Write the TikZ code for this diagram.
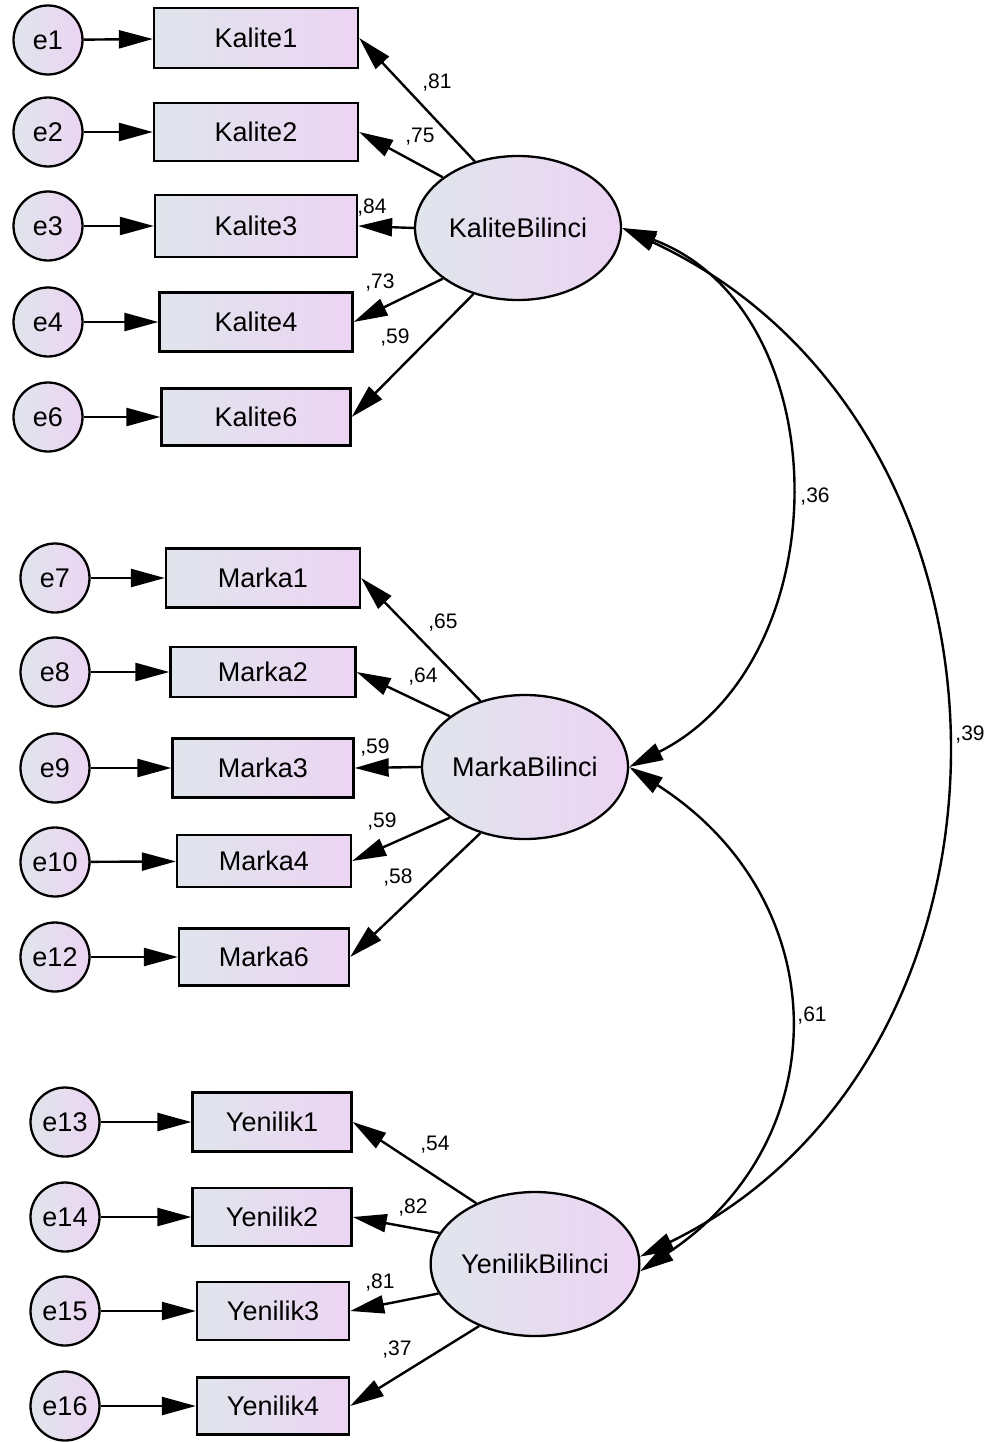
\documentclass[tikz,border=0pt]{standalone}
\usepackage{fontspec}
\setmainfont{Liberation Sans}
\usetikzlibrary{arrows.meta,shapes.geometric}
\definecolor{shA}{RGB}{224,229,236}
\definecolor{shB}{RGB}{236,212,243}
\begin{document}
\begin{tikzpicture}[x=1pt,y=-1pt,
  obs/.style={draw, line width=2.3pt, rectangle, left color=shA, right color=shB,
    font=\fontsize{27}{29}\selectfont, inner sep=0pt},
  err/.style={draw, line width=2.3pt, circle, minimum size=69pt, inner sep=0pt,
    left color=shA, right color=shB, font=\fontsize{27}{29}\selectfont},
  lat/.style={draw, line width=2.3pt, ellipse, minimum width=206pt, minimum height=144pt,
    inner sep=0pt, left color=shA, right color=shB, font=\fontsize{27}{29}\selectfont},
  load/.style={line width=2.4pt, -{Triangle[length=34pt,width=18pt]}},
  cov/.style={line width=2.4pt, {Triangle[length=34pt,width=18pt]}-{Triangle[length=34pt,width=18pt]}},
  coef/.style={font=\fontsize{21}{23}\selectfont, inner sep=0pt}
]
\useasboundingbox (0,0) rectangle (995,1442);

% latent factors
\node[lat] (K) at (518,228) {KaliteBilinci};
\node[lat] (M) at (525,767) {MarkaBilinci};
\node[lat] (Y) at (535,1264) {YenilikBilinci};

% indicators: Kalite
\node[obs, minimum width=204pt, minimum height=60pt] (k1) at (256,38) {Kalite1};
\node[obs, minimum width=204pt, minimum height=58pt] (k2) at (256,132) {Kalite2};
\node[obs, minimum width=202pt, minimum height=62pt] (k3) at (256,226) {Kalite3};
\node[obs, minimum width=193pt, minimum height=59pt] (k4) at (256,322) {Kalite4};
\node[obs, minimum width=189pt, minimum height=57pt] (k6) at (256,417) {Kalite6};
% indicators: Marka
\node[obs, minimum width=194pt, minimum height=59pt] (m1) at (263,578) {Marka1};
\node[obs, minimum width=185pt, minimum height=50pt] (m2) at (263,672) {Marka2};
\node[obs, minimum width=181pt, minimum height=59pt] (m3) at (263,768) {Marka3};
\node[obs, minimum width=174pt, minimum height=52pt] (m4) at (264,861) {Marka4};
\node[obs, minimum width=170pt, minimum height=57pt] (m6) at (264,957) {Marka6};
% indicators: Yenilik
\node[obs, minimum width=159pt, minimum height=59pt] (y1) at (272,1122) {Yenilik1};
\node[obs, minimum width=159pt, minimum height=58pt] (y2) at (272,1217) {Yenilik2};
\node[obs, minimum width=152pt, minimum height=58pt] (y3) at (273,1311) {Yenilik3};
\node[obs, minimum width=152pt, minimum height=57pt] (y4) at (273,1406) {Yenilik4};

% error terms
\node[err] (e1) at (48,40) {e1};
\node[err] (e2) at (48,132) {e2};
\node[err] (e3) at (48,226) {e3};
\node[err] (e4) at (48,322) {e4};
\node[err] (e6) at (48,417) {e6};
\node[err] (e7) at (55,578) {e7};
\node[err] (e8) at (55,672) {e8};
\node[err] (e9) at (55,768) {e9};
\node[err] (e10) at (55,862) {e10};
\node[err] (e12) at (55,957) {e12};
\node[err] (e13) at (65,1122) {e13};
\node[err] (e14) at (65,1217) {e14};
\node[err] (e15) at (65,1311) {e15};
\node[err] (e16) at (65,1406) {e16};

% error paths
\draw[load] (e1) -- (k1);
\draw[load] (e2) -- (k2);
\draw[load] (e3) -- (k3);
\draw[load] (e4) -- (k4);
\draw[load] (e6) -- (k6);
\draw[load] (e7) -- (m1);
\draw[load] (e8) -- (m2);
\draw[load] (e9) -- (m3);
\draw[load] (e10) -- (m4);
\draw[load] (e12) -- (m6);
\draw[load] (e13) -- (y1);
\draw[load] (e14) -- (y2);
\draw[load] (e15) -- (y3);
\draw[load] (e16) -- (y4);

% factor loadings
\draw[load] (K.123) -- (k1.east);
\draw[load] (K.146) -- (k2.east);
\draw[load] (K.180) -- (k3.east);
\draw[load] (K.214) -- (k4.east);
\draw[load] (K.236) -- (k6.east);
\draw[load] (M.124) -- (m1.east);
\draw[load] (M.146) -- (m2.east);
\draw[load] (M.180) -- (m3.east);
\draw[load] (M.214) -- (m4.east);
\draw[load] (M.236) -- (m6.east);
\draw[load] (Y.134) -- (y1.east);
\draw[load] (Y.162) -- (y2.east);
\draw[load] (Y.197) -- (y3.east);
\draw[load] (Y.228) -- (y4.east);

% loading values
\node[coef] (l1) at (437,83) {,81};
\node[coef] (l2) at (420,137) {,75};
\node[coef] (l3) at (372,208) {,84};
\node[coef] (l4) at (380,283) {,73};
\node[coef] (l6) at (395,338) {,59};
\node[coef] (l7) at (443,623) {,65};
\node[coef] (l8) at (423,677) {,64};
\node[coef] (l9) at (375,748) {,59};
\node[coef] (l10) at (382,822) {,59};
\node[coef] (l12) at (398,878) {,58};
\node[coef] (l13) at (435,1145) {,54};
\node[coef] (l14) at (413,1207) {,82};
\node[coef] (l15) at (380,1282) {,81};
\node[coef] (l16) at (397,1349) {,37};

% factor covariances
\draw[cov] (K.east) .. controls +(218,82) and +(212,-107) .. (M.east);
\draw[cov] (M.east) .. controls +(208,133) and +(198,-131) .. (Y.-4);
\draw[cov] (K.east) .. controls +(425,198) and +(408,-199) .. (Y.4);

\node[coef] (c1) at (815,497) {,36};
\node[coef] (c2) at (812,1015) {,61};
\node[coef] (c3) at (970,735) {,39};
\end{tikzpicture}
\end{document}
